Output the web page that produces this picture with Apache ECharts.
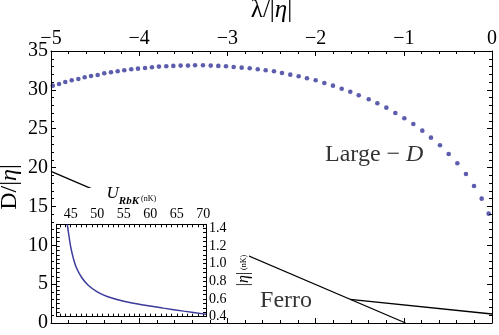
<!DOCTYPE html>
<html><head><meta charset="utf-8">
<script src="https://cdn.jsdelivr.net/npm/echarts@6/dist/echarts.min.js"></script>
<style>html,body{margin:0;padding:0;background:#fff}#c{width:499px;height:335px}</style>
</head><body><div id="c"></div>
<script>
// Main panel: Large-D boundary (dots)
const lambdaDots = [-4.98,-4.909,-4.838,-4.765,-4.690,-4.618,-4.546,-4.471,-4.396,-4.320,
  -4.244,-4.169,-4.090,-4.014,-3.934,-3.855,-3.776,-3.693,-3.613,-3.530,
  -3.447,-3.367,-3.277,-3.189,-3.103,-3.016,-2.929,-2.838,-2.747,-2.656,
  -2.566,-2.472,-2.381,-2.287,-2.192,-2.098,-1.999,-1.901,-1.803,-1.704,
  -1.607,-1.511,-1.398,-1.300,-1.198,-1.096,-0.994,-0.892,-0.790,-0.692,
  -0.590,-0.491,-0.393,-0.295,-0.204,-0.117,-0.038];
const dDots = [30.54,30.76,31.02,31.24,31.40,31.62,31.79,31.92,32.14,32.27,
  32.39,32.52,32.65,32.73,32.82,32.91,32.99,33.04,33.08,33.12,
  33.12,33.17,33.17,33.12,33.08,33.04,32.95,32.86,32.78,32.65,
  32.52,32.39,32.17,31.96,31.75,31.49,31.24,30.89,30.54,30.15,
  29.76,29.30,28.79,28.28,27.71,27.03,26.35,25.61,24.75,23.85,
  22.87,21.75,20.55,19.18,17.63,16.00,14.07];
// Ferro boundary lines
const ferroLambda = [-5, -0.98];
const ferroD = [19.5, 0];
const branchLambda = [-1.61, 0];
const branchD = [3.05, 1.16];
// tick labels
const xTickLabels = [-5,-4,-3,-2,-1,0];
const yTickLabels = [0,5,10,15,20,25,30,35];
// region labels
const regionNames = ['Large', 'Ferro'];
const regionLambda = [-1.893, -2.63];
const regionD = [21.6, 2.83];
// Inset: |eta| vs U_RbK
const insetU = [44.36,44.68,45.0,45.5,46.1,47.1,48.3,50.0,52.0,55.0,58.7,62.5,66.3,70.0,70.5];
const insetEta = [1.445,1.31,1.19,1.06,0.95,0.84,0.755,0.68,0.625,0.575,0.533,0.497,0.463,0.432,0.428];
const insetXTickLabels = [45,50,55,60,65,70];
const insetYTickLabels = [0.4,0.6,0.8,1.0,1.2,1.4];

const SERIF = 'Liberation Serif';
const zip = (a,b) => a.map((v,i)=>[v,b[i]]);
const fmtNeg = v => (v < 0 ? '\u2212' + Math.abs(v) : String(v));

const insetXTicks = []; for (let u = 43; u <= 70; u++) insetXTicks.push(u);
const insetYTicks = []; for (let k = 9; k <= 28; k++) insetYTicks.push(Math.round(k*5)/100);

const black = {color:'#000', width:1};
function mainAxisCommon(extra) {
  return Object.assign({
    type:'value', gridIndex:0, z:6, nameMoveOverlap:false,
    axisLine:{show:true, onZero:false, lineStyle:black},
    axisTick:{show:true, inside:true, length:5, lineStyle:black},
    minorTick:{show:true, splitNumber:5, length:3, lineStyle:black},
    splitLine:{show:false}
  }, extra);
}
function insetAxisCommon(extra) {
  return Object.assign({
    type:'value', gridIndex:1, z:10,
    axisLine:{show:true, onZero:false, lineStyle:black},
    splitLine:{show:false}
  }, extra);
}

const chart = echarts.init(document.getElementById('c'), null, {renderer:'canvas'});
chart.setOption({
  animation:false,
  backgroundColor:'#fff',
  grid:[
    {left:51, right:7, top:51, bottom:12, outerBoundsMode:'none', containLabel:false},
    {left:56.7, top:224.3, width:149.3, height:92.4, outerBoundsMode:'none', containLabel:false}
  ],
  graphic:[{type:'rect', z:5, shape:{x:53, y:188, width:196, height:134}, style:{fill:'#fff'}}],
  xAxis:[
    mainAxisCommon({position:'top', min:-5, max:0, interval:1,
      axisLabel:{show:true, fontFamily:SERIF, fontSize:20, color:'#000', margin:2,
        formatter: v => xTickLabels.includes(v) ? fmtNeg(v) : ''},
      name:'{g|λ}{t|/|}{e|η}{t||}', nameLocation:'middle', nameGap:28, nameMoveOverlap:true,
      nameTextStyle:{rich:{
        g:{fontFamily:SERIF, fontSize:25, color:'#000'},
        t:{fontFamily:SERIF, fontSize:25, color:'#000'},
        e:{fontFamily:SERIF, fontSize:25, fontStyle:'italic', color:'#000'}}}
    }),
    mainAxisCommon({position:'bottom', min:-5, max:0, interval:1, axisLabel:{show:false}}),
    insetAxisCommon({position:'top', min:42.36, max:70.5,
      axisTick:{show:true, inside:true, length:3, lineStyle:black, customValues:insetXTicks},
      axisLabel:{show:true, customValues:insetXTickLabels, fontFamily:SERIF, fontSize:14, color:'#000', margin:3},
      name:'{u|U}{s|RbK}{n| (nK)}', nameLocation:'middle', nameGap:20,
      nameTextStyle:{rich:{
        u:{fontFamily:SERIF, fontSize:17, fontStyle:'italic', color:'#000'},
        s:{fontFamily:SERIF, fontSize:11, fontStyle:'italic', fontWeight:'bold', color:'#000', verticalAlign:'bottom', padding:[0,0,-4,0]},
        n:{fontFamily:SERIF, fontSize:8, color:'#000', verticalAlign:'bottom', padding:[0,0,-1,0]}}}
    }),
    insetAxisCommon({position:'bottom', min:42.36, max:70.5,
      axisTick:{show:true, inside:true, length:3, lineStyle:black, customValues:insetXTicks},
      axisLabel:{show:false}})
  ],
  yAxis:[
    mainAxisCommon({position:'left', min:0, max:35, interval:5,
      axisLabel:{show:true, fontFamily:SERIF, fontSize:20, color:'#000', margin:3,
        formatter: v => yTickLabels.includes(v) ? String(v) : ''},
      name:'{t|D/|}{e|η}{t||}', nameLocation:'middle', nameGap:29, nameRotate:90,
      nameTextStyle:{rich:{
        t:{fontFamily:SERIF, fontSize:24, color:'#000'},
        e:{fontFamily:SERIF, fontSize:24, fontStyle:'italic', color:'#000'}}}
    }),
    mainAxisCommon({position:'right', min:0, max:35, interval:5, axisLabel:{show:false}}),
    insetAxisCommon({position:'right', min:0.4, max:1.445,
      axisTick:{show:true, inside:true, length:3, lineStyle:black, customValues:insetYTicks},
      axisLabel:{show:true, customValues:insetYTickLabels, fontFamily:SERIF, fontSize:14, color:'#000', margin:3,
        formatter: v => v.toFixed(1)},
      name:'{t||}{e|η}{t||}{n| (nK)}', nameLocation:'middle', nameGap:30, nameRotate:90,
      nameTextStyle:{rich:{
        t:{fontFamily:SERIF, fontSize:16, color:'#000'},
        e:{fontFamily:SERIF, fontSize:16, fontStyle:'italic', color:'#000'},
        n:{fontFamily:SERIF, fontSize:8, color:'#000'}}}
    }),
    insetAxisCommon({position:'left', min:0.4, max:1.445,
      axisTick:{show:true, inside:true, length:3, lineStyle:black, customValues:insetYTicks},
      axisLabel:{show:false}})
  ],
  series:[
    {type:'scatter', xAxisIndex:0, yAxisIndex:0, z:2, data:zip(lambdaDots, dDots),
      symbolSize:4.6, itemStyle:{color:'#34349a'}, silent:true},
    {type:'line', xAxisIndex:0, yAxisIndex:0, z:2, data:zip(ferroLambda, ferroD),
      symbol:'none', lineStyle:{color:'#000', width:1.3}},
    {type:'line', xAxisIndex:0, yAxisIndex:0, z:2, data:zip(branchLambda, branchD),
      symbol:'none', lineStyle:{color:'#000', width:1.3}},
    {type:'scatter', xAxisIndex:0, yAxisIndex:0, z:7, symbolSize:0,
      data: regionNames.map((n,i)=>({value:[regionLambda[i], regionD[i]], name:n})),
      label:{show:true, position:'right', distance:0,
        formatter: p => p.name === 'Large' ? '{r|Large \u2212 }{i|D}' : '{r|Ferro}',
        rich:{
          r:{fontFamily:SERIF, fontSize:24, color:'#000'},
          i:{fontFamily:SERIF, fontSize:24, fontStyle:'italic', color:'#000'}}}},
    {type:'line', xAxisIndex:2, yAxisIndex:2, z:10, data:zip(insetU, insetEta),
      symbol:'none', smooth:0.4, lineStyle:{color:'#3b3b9b', width:1.5}}
  ]
});
</script></body></html>
